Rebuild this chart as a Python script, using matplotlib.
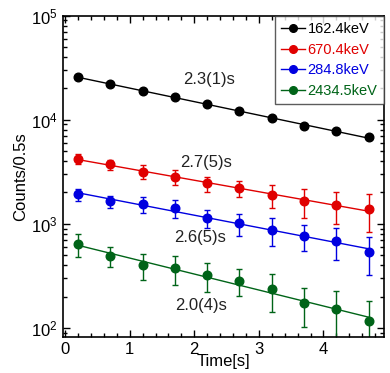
import numpy as np
import matplotlib
matplotlib.use("Agg")
from matplotlib import pyplot as plt
from matplotlib.ticker import MultipleLocator, LogLocator, NullFormatter

plt.rcParams['font.family'] = ['Liberation Sans', 'DejaVu Sans']
plt.rcParams['mathtext.fontset'] = 'custom'
plt.rcParams['mathtext.rm'] = 'Liberation Sans'

t = [0.2, 0.7, 1.2, 1.7, 2.2, 2.7, 3.2, 3.7, 4.2, 4.7]

c162 = [25600, 21900, 19000, 16600, 14050, 12130, 10300, 8750, 7730, 6780]
e162 = [300, 280, 260, 240, 220, 200, 190, 180, 170, 160]
c670 = [4220, 3720, 3160, 2830, 2440, 2190, 1890, 1660, 1510, 1375]
e670 = [440, 410, 490, 470, 405, 380, 460, 515, 520, 550]
c284 = [1920, 1650, 1545, 1405, 1142, 1010, 871, 763, 683, 538]
e284 = [255, 220, 275, 280, 228, 245, 260, 210, 235, 215]
c2434 = [634, 490, 401, 372, 321, 283, 236, 172, 151, 117]
e2434 = [155, 108, 115, 115, 100, 82, 94, 69, 77, 65]

labels = ["162.4keV", "670.4keV", "284.8keV", "2434.5keV"]
halflife = ["2.3(1)s", "2.7(5)s", "2.6(5)s", "2.0(4)s"]
colors = ["#000000", "#e00000", "#0000e0", "#006418"]
txt_pos = [(2.23, 24100), (2.19, 3920), (2.09, 733), (2.11, 165)]

fig = plt.figure(figsize=(3.9, 3.73), dpi=100)
ax = fig.add_axes([0.161, 0.097, 0.824, 0.861])

series = [(c162, e162), (c670, e670), (c284, e284), (c2434, e2434)]
tt = np.array(t)
for (c, e), col, lab, hl, pos in zip(series, colors, labels, halflife, txt_pos):
    c = np.array(c, float)
    p = np.polyfit(tt, np.log(c), 1)
    fit = np.exp(np.polyval(p, tt))
    ax.plot(tt, fit, color=col, lw=1.0)
    ax.errorbar(tt, c, yerr=e, fmt='none', ecolor=col, elinewidth=1.0,
                capsize=2, capthick=1.0)
    ax.plot(tt, c, 'o', color=col, ms=6.2, label=lab, zorder=5)
    ax.text(pos[0], pos[1], hl, ha='center', va='center', fontsize=12,
            color='#222222')

# legend handles: line with marker
handles = [plt.Line2D([], [], color=col, lw=1.0, marker='o', ms=5.5)
           for col in colors]
leg = ax.legend(handles, labels, loc='upper right', fontsize=10.5,
                frameon=True, fancybox=False, edgecolor='#333333',
                borderaxespad=0, handlelength=1.6, handletextpad=0.2,
                labelspacing=0.45, borderpad=0.45)
leg.get_frame().set_linewidth(1.0)
for txt, col in zip(leg.get_texts(), colors):
    txt.set_color(col)

ax.set_yscale('log')
ax.set_xlim(-0.036, 4.94)
ax.set_ylim(82, 1e5)
ax.xaxis.set_major_locator(MultipleLocator(1))
ax.xaxis.set_minor_locator(MultipleLocator(0.2))
ax.yaxis.set_major_locator(LogLocator(base=10))
ax.yaxis.set_minor_locator(LogLocator(base=10, subs=np.arange(2, 10)))
ax.yaxis.set_minor_formatter(NullFormatter())
ax.tick_params(which='both', direction='in', top=True, right=True,
               labelsize=12, width=1.0)
ax.tick_params(which='major', length=5)
ax.tick_params(which='minor', length=3)
for s in ax.spines.values():
    s.set_linewidth(1.2)

ax.set_xlabel("Time[s]", fontsize=12, labelpad=-2)
ax.set_ylabel("Counts/0.5s", fontsize=12, labelpad=2)

fig.savefig("out.png", dpi=100)
